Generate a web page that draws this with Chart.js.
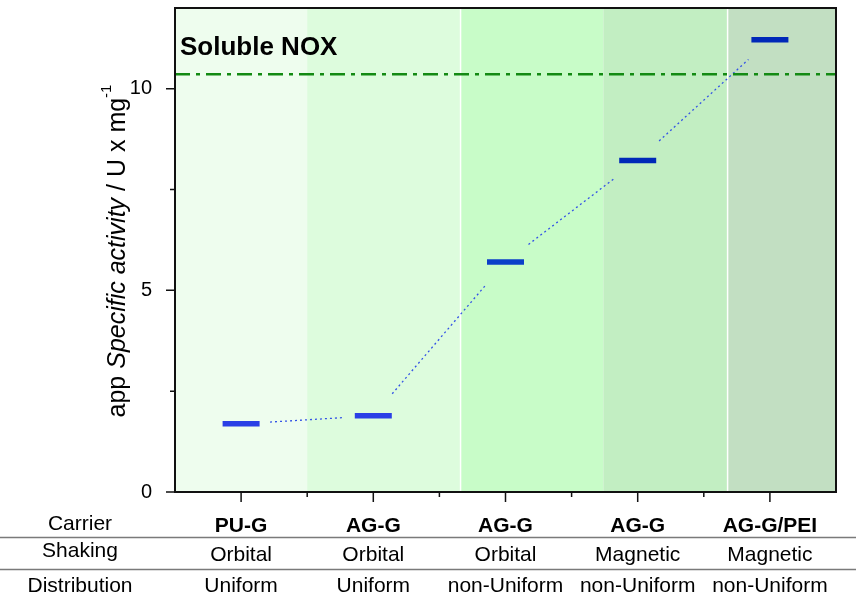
<!DOCTYPE html>
<html lang="en">
<head>
    <meta charset="UTF-8">
    <title>Soluble NOX activity</title>
    <script src="https://cdn.jsdelivr.net/npm/chart.js"></script>
    <style>
        body { margin: 0; background: #fff; }
    </style>
</head>
<body>
    <canvas id="chart" width="856" height="594"></canvas>

    <script>
        // data
        const rowLabels = ['Carrier', 'Shaking', 'Distribution'];
        const carriers = ['PU-G', 'AG-G', 'AG-G', 'AG-G', 'AG-G/PEI'];
        const shaking = ['Orbital', 'Orbital', 'Orbital', 'Magnetic', 'Magnetic'];
        const distribution = ['Uniform', 'Uniform', 'non-Uniform', 'non-Uniform', 'non-Uniform'];
        const xPos = [0.5, 1.5, 2.5, 3.5, 4.5];
        const activity = [1.69, 1.89, 5.70, 8.22, 11.21];
        const solubleNOX = 10.36;
        const bandEdges = [0, 1.0, 2.16, 3.24, 4.18, 5];
        const yMajor = [0, 5, 10];
        const yMinor = [2.5, 7.5];
        const xMinor = [1, 2, 3, 4];

        const dashColors = ['#2a3fe6', '#2a3fe6', '#0b3fc9', '#0028b8', '#0028b8'];
        const bandColors = ['#eefdee', '#ddfcdd', '#c8fcc8', '#c2eec2', '#c2dfc2'];
        const FONT = 'Liberation Sans, Arial, sans-serif';

        Chart.defaults.font.family = FONT;
        Chart.defaults.color = '#000';

        const decor = {
            id: 'decor',
            beforeDatasetsDraw(chart) {
                const { ctx, chartArea: a, scales: { x } } = chart;
                ctx.save();
                bandColors.forEach((c, i) => {
                    const x0 = x.getPixelForValue(bandEdges[i]);
                    const x1 = x.getPixelForValue(bandEdges[i + 1]);
                    ctx.fillStyle = c;
                    ctx.fillRect(x0, a.top, x1 - x0, a.bottom - a.top);
                });
                // thin white separators between some bands
                ctx.strokeStyle = '#fff';
                ctx.lineWidth = 1.5;
                [2, 4].forEach(i => {
                    const px = x.getPixelForValue(bandEdges[i]);
                    ctx.beginPath();
                    ctx.moveTo(px, a.top);
                    ctx.lineTo(px, a.bottom);
                    ctx.stroke();
                });

                // dotted connectors, cut short near each dash
                const pts = chart.getDatasetMeta(0).data;
                const gap = 29;
                ctx.strokeStyle = '#3352e6';
                ctx.lineWidth = 1.3;
                ctx.setLineDash([2, 3]);
                for (let i = 0; i < pts.length - 1; i++) {
                    const p0 = pts[i], p1 = pts[i + 1];
                    const dx = p1.x - p0.x, dy = p1.y - p0.y;
                    const len = Math.hypot(dx, dy);
                    const ux = dx / len, uy = dy / len;
                    ctx.beginPath();
                    ctx.moveTo(p0.x + ux * gap, p0.y + uy * gap);
                    ctx.lineTo(p1.x - ux * gap, p1.y - uy * gap);
                    ctx.stroke();
                }
                ctx.restore();
            },
            afterDraw(chart) {
                const { ctx, chartArea: a, scales: { x, y } } = chart;
                ctx.save();

                // frame
                ctx.strokeStyle = '#111';
                ctx.lineWidth = 2;
                ctx.strokeRect(a.left, a.top, a.right - a.left, a.bottom - a.top);

                // tick marks
                ctx.lineWidth = 1.5;
                ctx.beginPath();
                yMajor.forEach(v => { const p = y.getPixelForValue(v); ctx.moveTo(a.left - 9, p); ctx.lineTo(a.left, p); });
                yMinor.forEach(v => { const p = y.getPixelForValue(v); ctx.moveTo(a.left - 5, p); ctx.lineTo(a.left, p); });
                xPos.forEach(v => { const p = x.getPixelForValue(v); ctx.moveTo(p, a.bottom); ctx.lineTo(p, a.bottom + 10); });
                xMinor.forEach(v => { const p = x.getPixelForValue(v); ctx.moveTo(p, a.bottom); ctx.lineTo(p, a.bottom + 5); });
                ctx.stroke();

                // label inside plot
                ctx.fillStyle = '#000';
                ctx.textAlign = 'left';
                ctx.textBaseline = 'alphabetic';
                ctx.font = 'bold 26px ' + FONT;
                ctx.fillText('Soluble NOX', a.left + 5, a.top + 47);

                // y axis title with italic part and superscript
                ctx.save();
                ctx.translate(118, (a.top + a.bottom) / 2 + 1);
                ctx.rotate(-Math.PI / 2);
                const parts = [
                    { t: 'app ', f: '25px ' + FONT, dy: 0 },
                    { t: 'Specific activity', f: 'italic 25px ' + FONT, dy: 0 },
                    { t: ' / U x mg', f: '25px ' + FONT, dy: 0 },
                    { t: '-1', f: '15px ' + FONT, dy: -11 }
                ];
                let total = 0;
                parts.forEach(p => { ctx.font = p.f; p.w = ctx.measureText(p.t).width; total += p.w; });
                let cx = -total / 2;
                ctx.textBaseline = 'middle';
                parts.forEach(p => { ctx.font = p.f; ctx.fillText(p.t, cx, p.dy); cx += p.w; });
                ctx.restore();

                // table under the axis
                ctx.strokeStyle = '#7a7a7a';
                ctx.lineWidth = 1.5;
                ctx.beginPath();
                [537.5, 569.5].forEach(ly => { ctx.moveTo(0, ly); ctx.lineTo(chart.width, ly); });
                ctx.stroke();

                ctx.textAlign = 'center';
                ctx.textBaseline = 'alphabetic';
                const rowBase = [530, 557, 592];
                const cellBase = [532, 561, 592];
                ctx.font = '21px ' + FONT;
                rowLabels.forEach((t, i) => ctx.fillText(t, 80, rowBase[i]));
                [carriers, shaking, distribution].forEach((row, r) => {
                    ctx.font = (r === 0 ? 'bold ' : '') + '21px ' + FONT;
                    row.forEach((t, i) => ctx.fillText(t, x.getPixelForValue(xPos[i]), cellBase[r]));
                });

                ctx.restore();
            }
        };

        new Chart(document.getElementById('chart'), {
            type: 'scatter',
            data: {
                datasets: [{
                    data: xPos.map((v, i) => ({ x: v, y: activity[i] })),
                    pointStyle: 'line',
                    pointRadius: 18.5,
                    pointHoverRadius: 18.5,
                    pointBorderWidth: 5.5,
                    pointHoverBorderWidth: 5.5,
                    pointBorderColor: dashColors,
                    showLine: false
                }, {
                    type: 'line',
                    data: [{ x: 0, y: solubleNOX }, { x: 5, y: solubleNOX }],
                    borderColor: '#138a13',
                    borderWidth: 2.5,
                    borderDash: [15, 6, 4, 6],
                    pointRadius: 0
                }]
            },
            options: {
                responsive: false,
                animation: false,
                layout: { autoPadding: false, padding: { top: 8, right: 20, left: 0, bottom: 0 } },
                plugins: { legend: { display: false }, tooltip: { enabled: false } },
                scales: {
                    x: {
                        type: 'linear', min: 0, max: 5,
                        afterBuildTicks: ax => { ax.ticks = xPos.map(v => ({ value: v })); },
                        ticks: { display: false },
                        grid: { display: false },
                        border: { display: false },
                        afterFit: ax => { ax.height = 102; ax.paddingLeft = 0; ax.paddingRight = 0; }
                    },
                    y: {
                        min: 0, max: 12,
                        afterBuildTicks: ax => { ax.ticks = yMajor.map(v => ({ value: v })); },
                        ticks: { font: { size: 20 }, padding: 15, color: '#000' },
                        grid: { display: false },
                        border: { display: false },
                        afterFit: ax => { ax.width = 175; ax.paddingTop = 0; ax.paddingBottom = 0; }
                    }
                }
            },
            plugins: [decor]
        });
    </script>
</body>
</html>
